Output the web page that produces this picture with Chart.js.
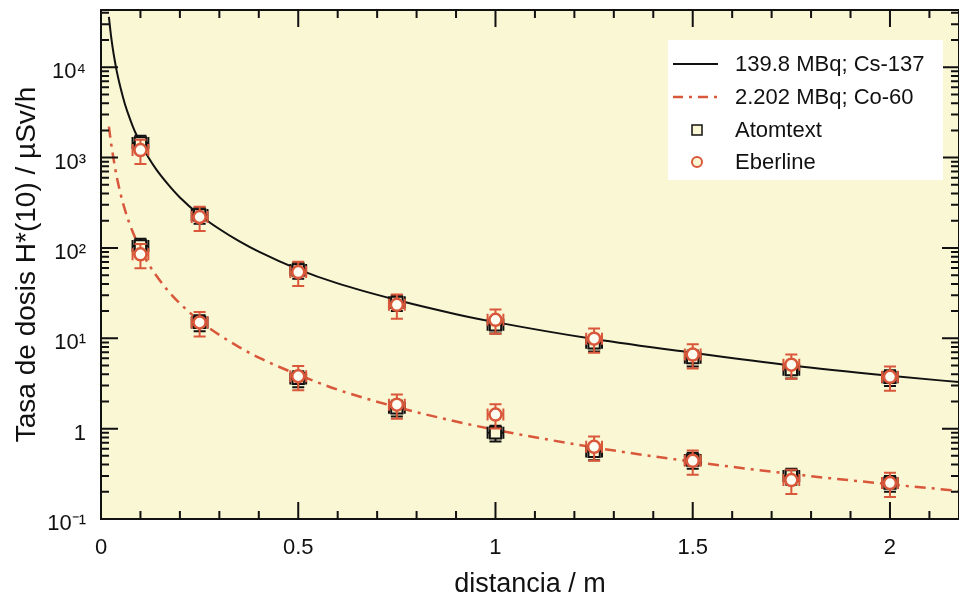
<!DOCTYPE html>
<html>
<head>
<meta charset="utf-8">
<script src="https://cdn.jsdelivr.net/npm/chart.js"></script>
<style>
  html, body { margin: 0; padding: 0; background: #fff; }
  #wrap { width: 959px; height: 594px; }
</style>
</head>
<body>
<div id="wrap"><canvas id="myChart"></canvas></div>
<script>
// measured points (distance in m, dose rate in uSv/h)
var distances = [0.1, 0.25, 0.5, 0.75, 1, 1.25, 1.5, 1.75, 2];
var atomtextCs = [1450, 232, 57, 25, 14.1, 8.9, 6.1, 4.5, 3.7];
var eberlineCs = [1210, 220, 54, 23.5, 16, 9.9, 6.6, 5.1, 3.75];
var atomtextCo = [105, 15, 3.6, 1.7, 0.9, 0.56, 0.45, 0.30, 0.25];
var eberlineCo = [85, 15, 3.8, 1.84, 1.43, 0.63, 0.44, 0.27, 0.25];

// fitted curves
var fitDist = [0.02, 0.025, 0.03, 0.035, 0.04, 0.05, 0.06, 0.07, 0.08, 0.09, 0.1, 0.12, 0.14, 0.17, 0.2, 0.25, 0.3, 0.35, 0.4, 0.5, 0.6, 0.75, 0.9, 1, 1.25, 1.5, 1.75, 2, 2.2];
var fitCs = [36000, 23000, 16000, 11800, 9000, 5800, 4000, 2950, 2250, 1780, 1450, 1010, 740, 505, 362, 232, 162, 119, 91, 58, 40.5, 26.5, 18.5, 15.1, 9.8, 6.9, 5.0, 3.85, 3.2];
var fitCo = [2200, 1500, 1080, 800, 610, 390, 270, 198, 152, 120, 97, 67, 49.5, 33.5, 24.3, 15.6, 10.9, 8.0, 6.1, 3.95, 2.7, 1.73, 1.2, 0.97, 0.62, 0.43, 0.315, 0.242, 0.2];

var distErr = 0.02;
var atomtextRelErr = 0.2;
var eberlineRelErr = 0.3;

var legendLabels = ['139.8 MBq; Cs-137', '2.202 MBq; Co-60', 'Atomtext', 'Eberline'];
var xTicks = [0, 0.5, 1, 1.5, 2];
var yTicks = [0.1, 1, 10, 100, 1000, 10000];
var yTickLabels = ['10\u207B\u00B9', '1', '10\u00B9', '10\u00B2', '10\u00B3', '10\u2074'];

var RED = '#d9573a';
var PLOT_BG = '#faf7d5';
var FONT = '"Liberation Sans", Arial, Helvetica, sans-serif';

function pts(xs, ys) {
  var out = [];
  for (var i = 0; i < xs.length; i++) out.push({x: xs[i], y: ys[i]});
  return out;
}

var errorBars = {
  id: 'errorBars',
  beforeDatasetDraw: function(chart, args) {
    var ds = chart.data.datasets[args.index];
    if (!ds.relErr) return;
    var ctx = chart.ctx, xs = chart.scales.x, ys = chart.scales.y;
    ctx.save();
    ctx.strokeStyle = ds.errColor;
    ctx.lineWidth = 2;
    ds.data.forEach(function(p) {
      var px = xs.getPixelForValue(p.x), py = ys.getPixelForValue(p.y);
      var top = ys.getPixelForValue(p.y * (1 + ds.relErr));
      var bot = ys.getPixelForValue(p.y * (1 - ds.relErr));
      var l = xs.getPixelForValue(p.x - distErr), r = xs.getPixelForValue(p.x + distErr);
      ctx.beginPath();
      ctx.moveTo(px, top); ctx.lineTo(px, bot);
      ctx.moveTo(px - 6, top); ctx.lineTo(px + 6, top);
      ctx.moveTo(px - 6, bot); ctx.lineTo(px + 6, bot);
      ctx.moveTo(l, py); ctx.lineTo(r, py);
      ctx.moveTo(l, py - 6); ctx.lineTo(l, py + 6);
      ctx.moveTo(r, py - 6); ctx.lineTo(r, py + 6);
      ctx.stroke();
    });
    ctx.restore();
  }
};

var frame = {
  id: 'frame',
  beforeDraw: function(chart) {
    var a = chart.chartArea, ctx = chart.ctx;
    ctx.save();
    ctx.fillStyle = PLOT_BG;
    ctx.fillRect(a.left, a.top, a.right - a.left, a.bottom - a.top);
    ctx.restore();
  },
  afterDatasetsDraw: function(chart) {
    var a = chart.chartArea, ctx = chart.ctx, xs = chart.scales.x, ys = chart.scales.y;
    ctx.save();
    ctx.strokeStyle = '#111';
    ctx.lineWidth = 2;
    ctx.beginPath();
    // x ticks, bottom and top, pointing inward
    for (var i = 0; i <= 22; i++) {
      var v = i / 10;
      if (v > xs.max) break;
      var px = xs.getPixelForValue(v);
      var len = (i % 5 === 0) ? 17 : 8;
      ctx.moveTo(px, a.bottom); ctx.lineTo(px, a.bottom - len);
      ctx.moveTo(px, a.top); ctx.lineTo(px, a.top + len);
    }
    // y ticks on log scale
    for (var e = -1; e <= 4; e++) {
      for (var m = 1; m <= 9; m++) {
        var val = m * Math.pow(10, e);
        if (val < ys.min || val > ys.max) continue;
        var py = ys.getPixelForValue(val);
        var l2 = (m === 1) ? 17 : 8;
        ctx.moveTo(a.left, py); ctx.lineTo(a.left + l2, py);
        ctx.moveTo(a.right, py); ctx.lineTo(a.right - l2, py);
      }
    }
    ctx.stroke();
    ctx.lineWidth = 2;
    ctx.strokeRect(a.left, a.top, a.right - a.left, a.bottom - a.top);
    ctx.restore();
  },
  afterDraw: function(chart) {
    var ctx = chart.ctx;
    ctx.save();
    ctx.fillStyle = '#ffffff';
    ctx.fillRect(668, 40, 275, 140);
    var rows = [64, 97, 130, 162];
    // line samples
    ctx.lineWidth = 2;
    ctx.strokeStyle = '#111';
    ctx.beginPath(); ctx.moveTo(673, rows[0]); ctx.lineTo(718, rows[0]); ctx.stroke();
    ctx.strokeStyle = RED;
    ctx.lineWidth = 2.5;
    ctx.setLineDash([10, 6, 3, 6]);
    ctx.beginPath(); ctx.moveTo(673, rows[1]); ctx.lineTo(718, rows[1]); ctx.stroke();
    ctx.setLineDash([]);
    // marker samples
    ctx.fillStyle = PLOT_BG;
    ctx.strokeStyle = '#111';
    ctx.lineWidth = 1.5;
    ctx.fillRect(692, rows[2] - 5, 10, 10);
    ctx.strokeRect(692, rows[2] - 5, 10, 10);
    ctx.strokeStyle = RED;
    ctx.lineWidth = 2;
    ctx.beginPath(); ctx.arc(697, rows[3], 5, 0, Math.PI * 2); ctx.fill(); ctx.stroke();
    // texts
    ctx.fillStyle = '#111';
    ctx.font = '22px ' + FONT;
    ctx.textBaseline = 'middle';
    ctx.textAlign = 'left';
    for (var i = 0; i < legendLabels.length; i++) {
      ctx.fillText(legendLabels[i], 735, rows[i] + 1);
    }
    ctx.restore();
  }
};

var ctx = document.getElementById('myChart').getContext('2d');

var chart = new Chart(ctx, {
  type: 'scatter',
  data: {
    datasets: [
      {
        label: 'Eberline Cs',
        data: pts(distances, eberlineCs),
        pointStyle: 'circle', pointRadius: 6, pointBorderWidth: 2.5,
        pointBorderColor: RED, pointBackgroundColor: '#fefdf2',
        relErr: eberlineRelErr, errColor: RED, order: 0
      },
      {
        label: 'Eberline Co',
        data: pts(distances, eberlineCo),
        pointStyle: 'circle', pointRadius: 6, pointBorderWidth: 2.5,
        pointBorderColor: RED, pointBackgroundColor: '#fefdf2',
        relErr: eberlineRelErr, errColor: RED, order: 1
      },
      {
        label: 'Atomtext Cs',
        data: pts(distances, atomtextCs),
        pointStyle: 'rect', pointRadius: 8, pointBorderWidth: 2,
        pointBorderColor: '#111', pointBackgroundColor: PLOT_BG,
        relErr: atomtextRelErr, errColor: '#111', order: 2
      },
      {
        label: 'Atomtext Co',
        data: pts(distances, atomtextCo),
        pointStyle: 'rect', pointRadius: 8, pointBorderWidth: 2,
        pointBorderColor: '#111', pointBackgroundColor: PLOT_BG,
        relErr: atomtextRelErr, errColor: '#111', order: 3
      },
      {
        label: legendLabels[0],
        type: 'line',
        data: pts(fitDist, fitCs),
        borderColor: '#111', borderWidth: 2,
        pointRadius: 0, cubicInterpolationMode: 'monotone', order: 4
      },
      {
        label: legendLabels[1],
        type: 'line',
        data: pts(fitDist, fitCo),
        borderColor: RED, borderWidth: 2.5, borderDash: [11, 6, 3, 6],
        pointRadius: 0, cubicInterpolationMode: 'monotone', order: 5
      }
    ]
  },
  options: {
    responsive: true,
    maintainAspectRatio: false,
    animation: false,
    layout: { autoPadding: false, padding: { top: 10, right: -1, left: 0, bottom: 0 } },
    plugins: { legend: { display: false }, tooltip: { enabled: false } },
    scales: {
      x: {
        type: 'linear',
        min: 0, max: 2.175,
        grid: { display: false, drawTicks: false },
        border: { display: false },
        afterBuildTicks: function(s) { s.ticks = xTicks.map(function(v) { return {value: v}; }); },
        afterFit: function(s) { s.height = 75; s.paddingLeft = 0; s.paddingRight = 0; },
        ticks: {
          color: '#111', padding: 16,
          font: { family: FONT, size: 22 },
          callback: function(v) { return String(v); }
        },
        title: {
          display: true, text: 'distancia / m', color: '#111',
          font: { family: FONT, size: 27 },
          padding: { top: 0, bottom: -7 }
        }
      },
      y: {
        type: 'logarithmic',
        min: 0.1, max: 43000,
        grid: { display: false, drawTicks: false },
        border: { display: false },
        afterBuildTicks: function(s) { s.ticks = yTicks.map(function(v) { return {value: v}; }); },
        afterFit: function(s) { s.width = 101; s.paddingTop = 0; s.paddingBottom = 0; },
        ticks: {
          color: '#111', padding: 15, labelOffset: 5,
          font: { family: FONT, size: 22 },
          callback: function(v) {
            var i = yTicks.indexOf(v);
            return i >= 0 ? yTickLabels[i] : '';
          }
        },
        title: {
          display: true, text: 'Tasa de dosis H*(10) / \u00B5Sv/h', color: '#111',
          font: { family: FONT, size: 28 },
          padding: { top: 10, bottom: 0 }
        }
      }
    }
  },
  plugins: [frame, errorBars]
});
</script>
</body>
</html>
